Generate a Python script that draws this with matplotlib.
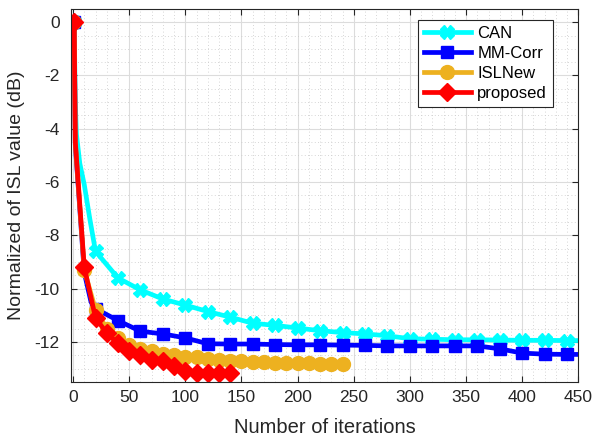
import numpy as np
import matplotlib.pyplot as plt
from matplotlib.ticker import MultipleLocator

plt.rcParams['font.family'] = ['Liberation Sans', 'DejaVu Sans']
plt.rcParams['axes.unicode_minus'] = False

# CAN
can_x = [1, 2, 3, 6, 10, 15, 20, 40, 60, 80, 100, 120, 140, 160, 180, 200, 220,
         240, 260, 280, 300, 320, 340, 360, 380, 400, 420, 440, 450]
can_y = [0, -3.0, -4.2, -5.3, -6.1, -7.4, -8.6, -9.6, -10.05, -10.39, -10.62,
         -10.86, -11.07, -11.3, -11.38, -11.48, -11.58, -11.65, -11.7, -11.77,
         -11.88, -11.9, -11.92, -11.92, -11.93, -11.94, -11.94, -11.95, -11.95]
can_marks = [1] + list(range(20, 441, 20))

# MM-Corr
mm_x = [1, 2, 10, 16, 20, 40, 60, 80, 100, 120, 140, 160, 180, 200, 220, 240,
        260, 280, 300, 320, 340, 360, 380, 400, 420, 440, 450]
mm_y = [0, -4.6, -9.4, -10.5, -10.75, -11.2, -11.6, -11.7, -11.85, -12.07,
        -12.08, -12.08, -12.1, -12.11, -12.11, -12.12, -12.13, -12.15, -12.15,
        -12.15, -12.15, -12.15, -12.26, -12.42, -12.46, -12.47, -12.47]
mm_marks = [1] + list(range(20, 441, 20))

# ISLNew
isl_x = [1, 2] + list(range(10, 241, 10))
isl_y = [0, -4.5, -9.3, -10.8, -11.5, -11.85, -12.1, -12.26, -12.36, -12.44,
         -12.48, -12.55, -12.58, -12.65, -12.67, -12.7, -12.72, -12.75, -12.77,
         -12.78, -12.8, -12.8, -12.81, -12.82, -12.82, -12.83]
isl_marks = [1] + list(range(10, 241, 10))

# proposed
prop_x = [1, 2] + list(range(10, 141, 10))
prop_y = [0, -4.5, -9.2, -11.1, -11.67, -12.05, -12.36, -12.48, -12.67, -12.73,
          -12.92, -13.1, -13.15, -13.15, -13.15, -13.15]
prop_marks = [1] + list(range(10, 141, 10))

fig = plt.figure(figsize=(5.95, 4.43), dpi=100)
ax = fig.add_axes([0.119, 0.138, 0.853, 0.842])

series = [
    (can_x, can_y, can_marks, (0, 1, 1), 'X', 10, 'CAN'),
    (mm_x, mm_y, mm_marks, (0, 0, 1), 's', 9, 'MM-Corr'),
    (isl_x, isl_y, isl_marks, (0.929, 0.694, 0.125), 'o', 10, 'ISLNew'),
    (prop_x, prop_y, prop_marks, (1, 0, 0), 'D', 9, 'proposed'),
]
for x, y, marks, col, mk, ms, lab in series:
    idx = [i for i, v in enumerate(x) if v in marks]
    ax.plot(x, y, color=col, lw=3.4, marker=mk, ms=ms, markevery=idx,
            mfc=col, mec=col, label=lab)

ax.set_xlim(-2, 450)
ax.set_ylim(-13.5, 0.5)
ax.xaxis.set_major_locator(MultipleLocator(50))
ax.yaxis.set_major_locator(MultipleLocator(2))
ax.xaxis.set_minor_locator(MultipleLocator(10))
ax.yaxis.set_minor_locator(MultipleLocator(0.5))
ax.grid(True, which='major', color='#dcdcdc', lw=0.8)
ax.grid(True, which='minor', color='#c8c8c8', lw=0.6, ls=(0, (1, 3)))
ax.set_axisbelow(True)
ax.tick_params(which='major', direction='in', length=4, top=True, right=True,
               labelsize=12.5, colors='#262626', pad=6)
ax.tick_params(axis='y', pad=8)
ax.tick_params(which='minor', length=0)
for s in ax.spines.values():
    s.set_color('#262626')
    s.set_linewidth(0.8)

ax.set_xlabel('Number of iterations', fontsize=14.5, color='#262626', labelpad=9)
ax.set_ylabel('Normalized of ISL value (dB)', fontsize=14, color='#262626',
              labelpad=7)

leg = ax.legend(loc='upper right', fontsize=12, handlelength=2.8,
                fancybox=False, edgecolor='#262626', framealpha=1,
                bbox_to_anchor=(0.95, 0.97), borderaxespad=0,
                labelspacing=0.3, handletextpad=0.4, borderpad=0.35)
leg.get_frame().set_linewidth(0.8)

plt.savefig('out.png', dpi=100)
